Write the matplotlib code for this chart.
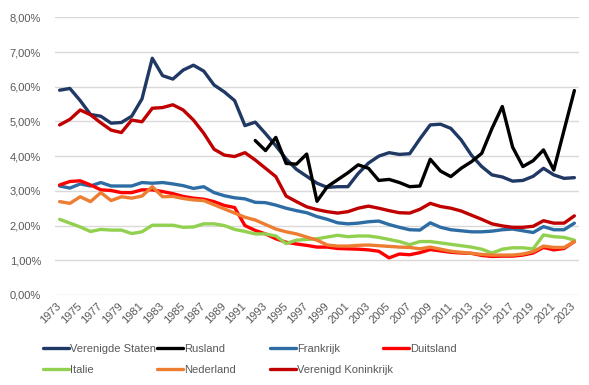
import matplotlib.pyplot as plt
import numpy as np

# Data to plot (share of GDP, %)
years = list(range(1973, 2024))
nan = np.nan

verenigde_staten = [5.90, 5.95, 5.60, 5.20, 5.15, 4.95, 4.97, 5.15, 5.65, 6.82,
                    6.32, 6.22, 6.48, 6.62, 6.45, 6.05, 5.85, 5.60, 4.88, 4.98,
                    4.65, 4.30, 3.92, 3.62, 3.42, 3.22, 3.10, 3.12, 3.12, 3.50,
                    3.80, 4.00, 4.10, 4.05, 4.07, 4.50, 4.90, 4.92, 4.80, 4.47,
                    4.03, 3.70, 3.46, 3.40, 3.28, 3.30, 3.42, 3.65, 3.46, 3.36,
                    3.38]
rusland = [nan] * 19 + [4.45, 4.16, 4.54, 3.79, 3.77, 4.06, 2.70, 3.12, 3.32,
                        3.52, 3.75, 3.65, 3.30, 3.33, 3.24, 3.12, 3.14, 3.91, 3.57,
                        3.41, 3.65, 3.84, 4.08, 4.80, 5.43, 4.26, 3.70, 3.87, 4.18,
                        3.60, 4.75, 5.89]
frankrijk = [3.14, 3.08, 3.20, 3.14, 3.24, 3.14, 3.14, 3.14, 3.24, 3.22,
             3.24, 3.20, 3.15, 3.07, 3.12, 2.95, 2.86, 2.80, 2.77, 2.67,
             2.66, 2.59, 2.50, 2.43, 2.37, 2.26, 2.18, 2.08, 2.05, 2.07,
             2.11, 2.13, 2.03, 1.95, 1.88, 1.87, 2.08, 1.95, 1.88, 1.85,
             1.82, 1.82, 1.84, 1.88, 1.90, 1.85, 1.80, 1.97, 1.88, 1.88,
             2.07]
duitsland = [3.17, 3.27, 3.29, 3.17, 3.03, 3.01, 2.95, 2.95, 3.03, 3.03,
             2.98, 2.92, 2.84, 2.79, 2.76, 2.69, 2.58, 2.52, 2.00, 1.86,
             1.76, 1.62, 1.52, 1.47, 1.43, 1.38, 1.38, 1.34, 1.33, 1.32,
             1.30, 1.26, 1.07, 1.18, 1.16, 1.22, 1.31, 1.27, 1.23, 1.21,
             1.20, 1.14, 1.11, 1.12, 1.12, 1.15, 1.21, 1.37, 1.30, 1.34,
             1.54]
italie = [2.18, 2.07, 1.96, 1.83, 1.89, 1.87, 1.87, 1.77, 1.82, 2.01,
          2.01, 2.01, 1.95, 1.96, 2.05, 2.05, 2.00, 1.89, 1.83, 1.76,
          1.76, 1.70, 1.48, 1.58, 1.60, 1.62, 1.67, 1.72, 1.68, 1.70,
          1.70, 1.66, 1.60, 1.54, 1.45, 1.54, 1.54, 1.50, 1.46, 1.42,
          1.38, 1.32, 1.21, 1.32, 1.36, 1.36, 1.33, 1.73, 1.68, 1.66,
          1.58]
nederland = [2.69, 2.64, 2.83, 2.69, 2.95, 2.72, 2.83, 2.79, 2.85, 3.12,
             2.83, 2.84, 2.78, 2.74, 2.72, 2.60, 2.48, 2.36, 2.24, 2.16,
             2.03, 1.90, 1.82, 1.76, 1.67, 1.58, 1.44, 1.41, 1.41, 1.43,
             1.44, 1.42, 1.40, 1.38, 1.37, 1.33, 1.38, 1.32, 1.26, 1.23,
             1.20, 1.17, 1.15, 1.15, 1.15, 1.18, 1.25, 1.41, 1.37, 1.37,
             1.54]
verenigd_koninkrijk = [4.90, 5.06, 5.33, 5.19, 4.96, 4.75, 4.68, 5.04, 4.99, 5.38,
                       5.40, 5.48, 5.33, 5.04, 4.66, 4.20, 4.03, 3.99, 4.10, 3.89,
                       3.65, 3.41, 2.85, 2.69, 2.54, 2.46, 2.40, 2.36, 2.40, 2.50,
                       2.56, 2.50, 2.43, 2.37, 2.36, 2.47, 2.64, 2.55, 2.50, 2.42,
                       2.30, 2.18, 2.05, 1.99, 1.95, 1.95, 1.98, 2.14, 2.07, 2.07,
                       2.28]

series = [
    ('Verenigde Staten', verenigde_staten, '#203864'),
    ('Rusland', rusland, '#000000'),
    ('Frankrijk', frankrijk, '#2E6DA4'),
    ('Duitsland', duitsland, '#FF0000'),
    ('Italie', italie, '#92D050'),
    ('Nederland', nederland, '#ED7D31'),
    ('Verenigd Koninkrijk', verenigd_koninkrijk, '#C00000'),
]

plt.rcParams['font.family'] = ['Liberation Sans', 'DejaVu Sans']
text_color = '#595959'

fig = plt.figure(figsize=(5.89, 3.85), dpi=100)
ax = fig.add_axes([55 / 589, 1 - 295 / 385, (579 - 55) / 589, (295 - 17.3) / 385])

handles = {}
for name, values, color in series:
    line, = ax.plot(years, values, color=color, lw=2.4, label=name,
                    solid_joinstyle='round', solid_capstyle='round')
    handles[name] = line

# axes look
ax.set_xlim(1972.55, 2023.45)
ax.set_ylim(0, 8)
ax.set_yticks(np.arange(0, 9, 1))
ax.set_yticklabels([('%.2f' % v).replace('.', ',') + '%' for v in range(9)])
ax.set_xticks(years[::2])
ax.set_xticklabels([str(y) for y in years[::2]], rotation=45, ha='right',
                   va='center', rotation_mode='anchor')
ax.tick_params(axis='both', length=0, labelsize=8, labelcolor=text_color)
ax.tick_params(axis='x', pad=7)
ax.tick_params(axis='y', pad=10)
ax.grid(axis='y', color='#D9D9D9', lw=1)
ax.set_axisbelow(True)
for spine in ax.spines.values():
    spine.set_visible(False)

# legend, laid out in evenly spaced columns like the original
columns = [
    (43, ['Verenigde Staten', 'Italie']),
    (157, ['Rusland', 'Nederland']),
    (270, ['Frankrijk', 'Verenigd Koninkrijk']),
    (383, ['Duitsland']),
]
for x, names in columns:
    fig.legend([handles[n] for n in names], names,
               loc='upper left', bbox_to_anchor=(x / 589, 1 - 344 / 385),
               frameon=False, fontsize=8, labelcolor=text_color,
               handlelength=2.3, handletextpad=0.1, borderpad=0,
               borderaxespad=0, labelspacing=0.95)

fig.savefig('out.png', dpi=100)
